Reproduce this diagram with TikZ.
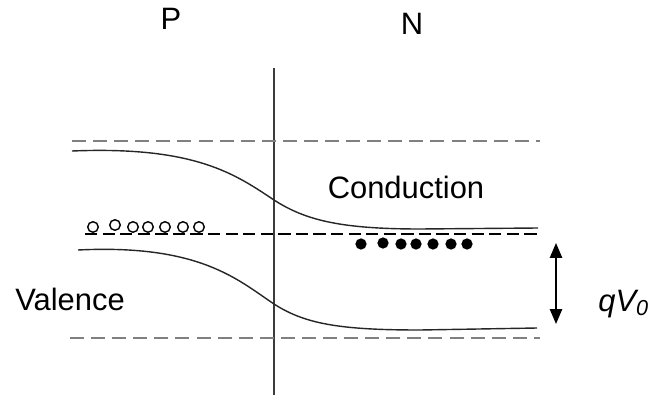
\documentclass[tikz,border=0pt]{standalone}
\usepackage{fontspec}
\setmainfont{Liberation Sans}
\usepackage{tikz}
\usetikzlibrary{arrows.meta}
\definecolor{levelgray}{RGB}{128, 128, 128}
\definecolor{junctgray}{RGB}{60, 60, 60}

\begin{document}
\begin{tikzpicture}[x=0.02cm, y=-0.02cm, >={Triangle[length=8.5pt, width=7pt]},
    lbl/.style={font=\fontsize{17.6}{20}\selectfont, inner sep=0pt, anchor=base},
    edge/.style={levelgray, line width=1.7pt, dash pattern=on 8pt off 4pt},
    band/.style={black!85, line width=0.8pt},
    hole/.style={circle, draw, line width=0.8pt, minimum size=6pt, inner sep=0pt},
    elec/.style={circle, fill=black, minimum size=6.4pt, inner sep=0pt}]

  \useasboundingbox (0,0) rectangle (649,395);

  % Region labels
  \node[lbl] (pside) at (171, 30) {P};
  \node[lbl] (nside) at (412, 35) {N};

  % Junction
  \coordinate (jtop) at (274, 68);
  \coordinate (jbot) at (274, 395);
  \draw[junctgray, line width=1pt] (jtop) -- (jbot);

  % Outer level edges
  \coordinate (ctl) at (72, 141);
  \coordinate (ctr) at (540, 141);
  \coordinate (vbl) at (70, 338);
  \coordinate (vbr) at (540, 338);
  \draw[edge] (ctl) -- (ctr);
  \draw[edge] (vbl) -- (vbr);

  % Fermi level
  \coordinate (efl) at (85, 234);
  \coordinate (efr) at (538, 234);
  \draw[black, line width=0.6pt, dash pattern=on 7pt off 3pt] (efl) -- (efr);

  % Conduction band edge
  \draw[band] (72, 151) .. controls (195, 146) and (235, 174) .. (274, 200)
    .. controls (305, 220) and (340, 229) .. (420, 229) -- (538, 228);
  % Valence band edge
  \draw[band] (78, 250) .. controls (200, 244) and (238, 280) .. (274, 304)
    .. controls (305, 324) and (340, 330) .. (420, 330) -- (537, 328);

  % Holes
  \foreach \x/\y/\i in {93/227/1, 115/225/2, 133/227/3, 148/227/4, 165/227/5, 183/227/6, 199/227/7}{
    \node[hole] (h\i) at (\x, \y) {};
  }
  % Electrons
  \foreach \x/\y/\i in {361/244/1, 383/243/2, 401/244/3, 416/244/4, 433/244/5, 451/244/6, 467/244/7}{
    \node[elec] (e\i) at (\x, \y) {};
  }

  % Band labels
  \node[lbl] (cond) at (406, 198) {Conduction};
  \node[lbl] (val) at (70, 310) {Valence};

  % Barrier height
  \coordinate (qtop) at (556, 243);
  \coordinate (qbot) at (556, 324);
  \draw[<->, line width=0.9pt] (qtop) -- (qbot);
  \node[lbl, anchor=base west] (qv) at (598, 311) {\itshape qV\textsubscript{0}};
\end{tikzpicture}
\end{document}
